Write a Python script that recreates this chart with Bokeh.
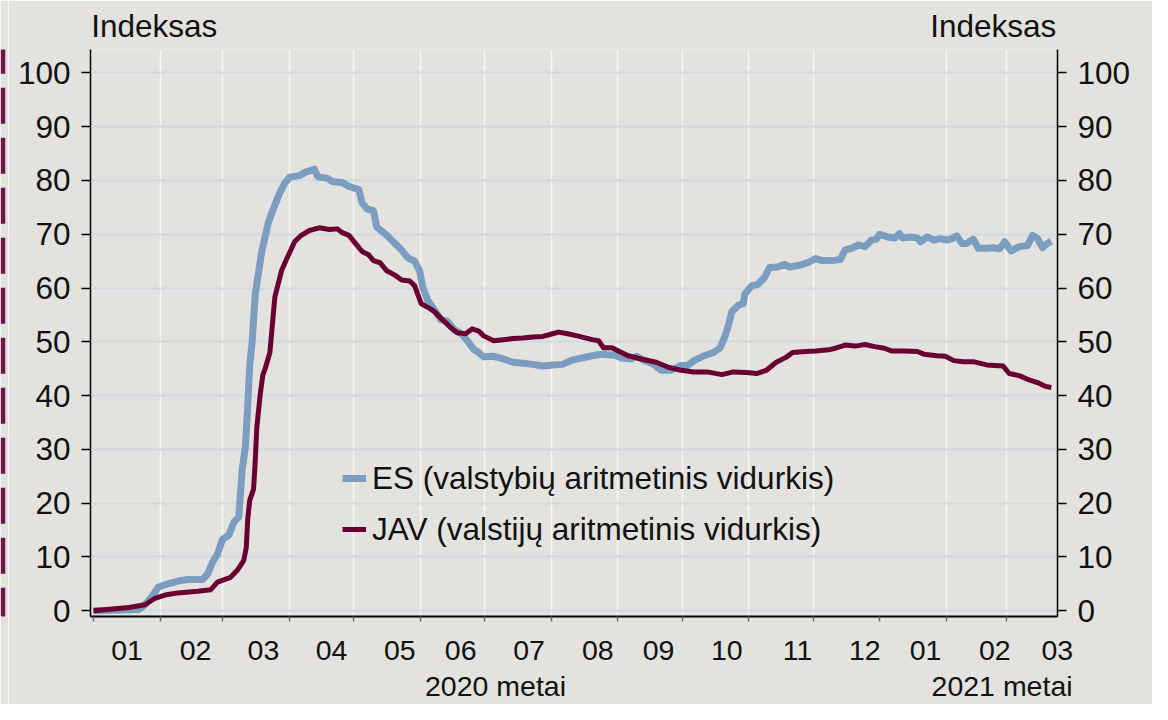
from bokeh.plotting import figure
from bokeh.layouts import row
from bokeh.models import Range1d, FixedTicker, LinearAxis, Legend, LegendItem
from bokeh.embed import file_html
from bokeh.resources import INLINE

# ---------------- data (x = days since 2020-01-01) ----------------
es_day = [0, 21.0, 24.0, 27.1, 30.2, 34.7, 39.3, 43.9, 50.8, 53.1, 55.4, 57.7, 60.0, 63.1,
          65.4, 67.6, 69.2, 70.7, 71.8, 72.7, 73.8, 75.3, 78.3, 81.4, 83.7, 86.7, 89.0,
          91.3, 95.9, 99.0, 102.8, 104.4, 108.9, 111.2, 115.8, 118.9, 123.5, 125.0, 127.3,
          130.3, 131.9, 136.5, 140.3, 142.6, 146.4, 149.5, 151.8, 153.3, 155.6, 158.7,
          161.7, 164.8, 167.8, 171.6, 173.9, 177.0, 179.3, 181.6, 186.2, 190.8, 195.3,
          199.9, 204.5, 209.1, 213.7, 218.3, 222.9, 227.5, 232.1, 236.7, 242.8, 245.8,
          250.4, 252.7, 256.5, 260.4, 264.2, 268.8, 273.4, 276.5, 279.5, 284.1, 288.7,
          291.7, 294.0, 295.6, 297.1, 300.1, 302.4, 303.2, 306.3, 309.3, 312.4, 314.7,
          318.5, 321.6, 323.9, 326.9, 330.0, 333.0, 336.1, 339.1, 343.7, 347.6, 349.9,
          352.9, 356.0, 359.1, 362.1, 364.4, 365.9, 369.7, 372.8, 375.1, 376.6, 380.4,
          383.5, 385.0, 388.1, 391.1, 394.2, 397.2, 399.6, 401.9, 404.2, 406.5, 409.5,
          411.8, 415.7, 418.7, 421.8, 424.1, 427.1, 430.9, 434.8, 437.1, 439.4, 441.7,
          444.0, 445.8]
es_val = [0.0, 0.2, 1.1, 2.6, 4.4, 5.0, 5.5, 5.8, 5.8, 6.8, 9.0, 10.5, 13.2, 14.1,
          16.5, 17.4, 26.2, 30.5, 38.3, 45.6, 49.8, 58.9, 66.8, 72.2, 74.7, 77.7, 79.5,
          80.6, 80.9, 81.6, 82.1, 80.7, 80.4, 79.8, 79.6, 78.9, 78.3, 75.9, 74.7,
          74.4, 71.3, 69.8, 68.3, 67.4, 65.6, 65.0, 63.2, 60.1, 57.7, 55.9,
          54.1, 53.8, 52.3, 51.4, 50.2, 48.6, 48.0, 47.2, 47.3, 46.8, 46.2,
          46.0, 45.8, 45.5, 45.7, 45.8, 46.6, 47.0, 47.4, 47.7, 47.5, 47.0,
          46.8, 47.3, 46.5, 45.9, 44.7, 44.7, 45.6, 45.6, 46.5, 47.4, 48.0,
          48.9, 51.1, 53.2, 55.6, 56.8, 57.1, 58.9, 60.4, 60.7, 62.0, 63.8,
          63.9, 64.4, 63.9, 64.1, 64.4, 64.8, 65.5, 65.1, 65.1, 65.3, 67.1,
          67.4, 68.0, 67.7, 68.9, 69.1, 70.0, 69.5, 69.3, 70.1, 69.3, 69.5,
          69.3, 68.6, 69.5, 68.9, 69.2, 68.9, 69.2, 69.7, 68.3, 68.3, 69.1,
          67.4, 67.4, 67.5, 67.3, 68.6, 66.9, 67.7, 67.9, 69.8, 69.2, 67.5,
          68.3, 68.7]

jav_day = [0, 16.4, 24.0, 28.6, 33.2, 39.3, 48.5, 54.6, 57.7, 63.8, 66.9, 69.9, 71.1,
           71.8, 72.7, 74.5, 75.3, 76.0, 77.6, 78.8, 79.9, 82.1, 84.4, 87.5, 89.8, 93.6,
           96.7, 100.5, 105.1, 109.7, 113.5, 115.8, 118.9, 121.9, 125.0, 128.0, 130.3,
           133.4, 136.5, 140.3, 143.4, 147.2, 149.5, 152.5, 156.4, 158.7, 161.7, 166.3,
           169.3, 173.2, 176.2, 179.3, 181.6, 186.2, 190.8, 195.3, 199.9, 204.5, 209.1,
           213.7, 216.5, 220.6, 225.2, 232.1, 235.1, 237.4, 241.3, 244.3, 248.9, 255.0,
           261.9, 267.3, 273.4, 279.5, 285.6, 292.5, 297.8, 304.0, 308.6, 313.2, 317.8,
           322.3, 325.4, 331.5, 336.1, 342.2, 345.3, 349.9, 354.5, 359.1, 363.6, 368.2,
           371.3, 377.4, 383.5, 386.5, 392.6, 396.5, 400.4, 404.9, 409.5, 415.7, 423.3,
           426.3, 430.9, 435.5, 440.1, 443.2, 445.8]
jav_val = [0.0, 0.6, 1.1, 2.3, 2.9, 3.3, 3.6, 3.9, 5.3, 6.2, 7.5, 9.3, 11.7,
           17.1, 20.5, 22.6, 28.0, 34.0, 40.2, 43.8, 45.0, 48.0, 58.3, 63.2, 65.3, 68.6,
           69.8, 70.7, 71.2, 70.9, 71.0, 70.3, 69.8, 68.3, 66.8, 66.2, 65.1,
           64.7, 63.2, 62.4, 61.5, 61.3, 60.4, 57.1, 56.2, 55.6, 54.4, 52.6,
           51.7, 51.5, 52.4, 52.0, 51.1, 50.2, 50.4, 50.6, 50.7, 50.9, 51.0,
           51.5, 51.8, 51.5, 51.1, 50.4, 50.2, 48.9, 48.9, 48.3, 47.4, 46.8,
           46.2, 45.3, 44.7, 44.4, 44.4, 43.9, 44.4, 44.3, 44.1, 44.7, 46.2,
           47.1, 48.0, 48.2, 48.3, 48.5, 48.8, 49.4, 49.2, 49.5, 49.1, 48.8,
           48.3, 48.3, 48.2, 47.7, 47.4, 47.3, 46.5, 46.3, 46.3, 45.7, 45.5,
           44.1, 43.7, 42.9, 42.3, 41.7, 41.5]

series_names = ["ES (valstybių aritmetinis vidurkis)", "JAV (valstijų aritmetinis vidurkis)"]

month_starts = [0, 31, 60, 91, 121, 152, 182, 213, 244, 274, 305, 335, 366, 397, 425]
month_labels = ["01", "02", "03", "04", "05", "06", "07", "08", "09", "10", "11", "12",
                "01", "02", "03"]
month_label_day = [15.6, 47.5, 79.1, 110.8, 142.6, 170.9, 202.7, 234.7, 263.0, 294.8,
                   327.7, 359.0, 387.3, 419.5, 451.0]
year_labels = ["2020 metai", "2021 metai"]
year_label_day = [187.1, 422.9]
y_ticks = [0, 10, 20, 30, 40, 50, 60, 70, 80, 90, 100]
axis_title = "Indeksas"
axis_title_day = [28.3, 418.8]

# ---------------- styles ----------------
FONT = "Liberation Sans"
BG = "#e3e2de"
ES_COLOR = "#7a9dc0"
JAV_COLOR = "#6a0032"
TXT = "#111111"
BORDER_COLOR = "#6e1448"

X0, X1 = -1.4, 448.7
Y0, Y1 = -1.09, 104.36
H = 704

p = figure(width=1144, height=H, output_backend="svg", toolbar_location=None,
           x_range=Range1d(X0, X1), y_range=Range1d(Y0, Y1),
           min_border_left=82, min_border_right=95, min_border_top=49,
           min_border_bottom=88, background_fill_color=BG, border_fill_color=BG,
           outline_line_color=None, y_axis_location=None, x_axis_location=None)

# bottom axis: month boundaries as (grey) minor ticks, month labels as major labels
xax = LinearAxis(ticker=FixedTicker(ticks=[min(d, X1 - 0.1) for d in month_label_day],
                                    minor_ticks=month_starts))
xax.major_label_overrides = {min(d, X1 - 0.1): t for d, t in zip(month_label_day, month_labels)}
xax.axis_line_color = "black"
xax.axis_line_width = 2
xax.major_tick_out = 5
xax.major_tick_in = 0
xax.major_tick_line_color = None
xax.minor_tick_out = 5
xax.minor_tick_in = 0
xax.minor_tick_line_color = "#6a6a6a"
xax.minor_tick_line_width = 1.5
xax.major_label_standoff = 19
xax.major_label_text_font = FONT
xax.major_label_text_font_size = "28.5px"
xax.major_label_text_color = TXT
p.add_layout(xax, "below")

# second row below: year captions
yax_lab = LinearAxis(ticker=FixedTicker(ticks=year_label_day, minor_ticks=[]))
yax_lab.major_label_overrides = {d: t for d, t in zip(year_label_day, year_labels)}
yax_lab.axis_line_color = None
yax_lab.major_tick_line_color = None
yax_lab.minor_tick_line_color = None
yax_lab.major_tick_out = 0
yax_lab.major_tick_in = 0
yax_lab.major_label_standoff = 7
yax_lab.major_label_text_font = FONT
yax_lab.major_label_text_font_size = "28.5px"
yax_lab.major_label_text_color = TXT
p.add_layout(yax_lab, "below")

# top: "Indeksas" captions over both value axes
top = LinearAxis(ticker=FixedTicker(ticks=axis_title_day, minor_ticks=[]))
top.major_label_overrides = {d: axis_title for d in axis_title_day}
top.axis_line_color = None
top.major_tick_line_color = None
top.minor_tick_line_color = None
top.major_tick_out = 0
top.major_tick_in = 0
top.major_label_standoff = 6
top.major_label_text_font = FONT
top.major_label_text_font_size = "31.5px"
top.major_label_text_color = TXT
p.add_layout(top, "above")

for side in ("left", "right"):
    ax = LinearAxis(ticker=FixedTicker(ticks=y_ticks, minor_ticks=[]))
    ax.axis_line_color = "black"
    ax.axis_line_width = 1.5
    ax.major_tick_out = 9
    ax.major_tick_in = 0
    ax.major_tick_line_color = "black"
    ax.major_tick_line_width = 1.5
    ax.minor_tick_line_color = None
    ax.major_label_standoff = 11
    ax.major_label_text_font = FONT
    ax.major_label_text_font_size = "31.5px"
    ax.major_label_text_color = TXT
    p.add_layout(ax, side)

p.xgrid.ticker = FixedTicker(ticks=[m for m in month_starts if m not in (0, 366)])
p.xgrid.grid_line_color = "#f7f7f5"
p.xgrid.grid_line_width = 1.5
p.ygrid.ticker = FixedTicker(ticks=y_ticks)
p.ygrid.grid_line_color = "#cfdae3"
p.ygrid.grid_line_width = 2

r_es = p.line(es_day, es_val, line_color=ES_COLOR, line_width=7,
              line_join="round", line_cap="butt")
r_jav = p.line(jav_day, jav_val, line_color=JAV_COLOR, line_width=5,
               line_join="round", line_cap="butt")

legend = Legend(items=[LegendItem(label=series_names[0], renderers=[r_es]),
                       LegendItem(label=series_names[1], renderers=[r_jav])],
                location=(252, 67), padding=0, margin=0, spacing=11,
                glyph_width=24, glyph_height=40, label_height=40, label_standoff=6,
                label_text_font=FONT, label_text_font_size="31.5px",
                label_text_color=TXT, background_fill_alpha=0,
                border_line_color=None)
p.add_layout(legend)

# narrow strip on the left carrying the dashed page-border line
strip = figure(width=8, height=H, output_backend="svg", toolbar_location=None,
               x_range=Range1d(0, 8), y_range=Range1d(H, 0), min_border=0,
               background_fill_color=BG, border_fill_color=BG, outline_line_color=None,
               x_axis_location=None, y_axis_location=None)
strip.grid.visible = False
strip.line([2.5, 2.5], [-14.7, H + 20], line_color=BORDER_COLOR, line_width=4.5,
           line_dash="36 14")

layout = row(strip, p)
open("out.html", "w").write(file_html(layout, INLINE))
